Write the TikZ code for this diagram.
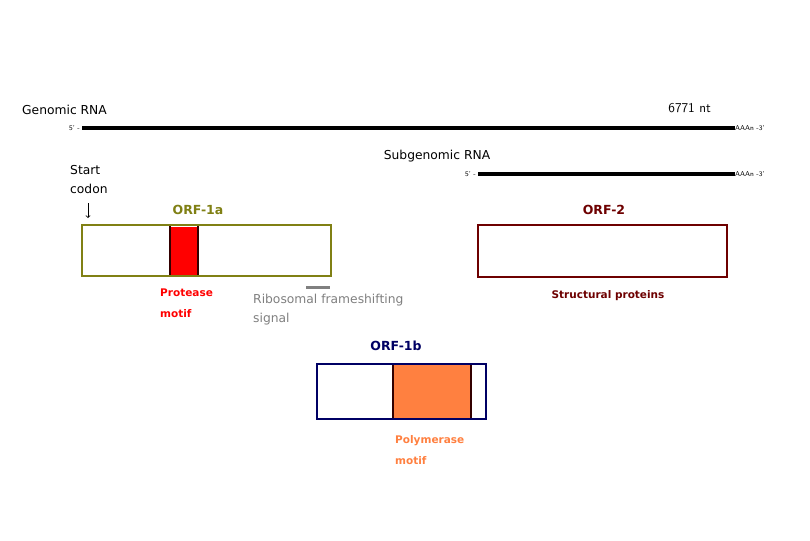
\documentclass[tikz,border=0pt]{standalone}
\usepackage{fontspec}
\setmainfont{DejaVu Sans}
\definecolor{olivec}{RGB}{128,128,20}
\definecolor{maroonc}{RGB}{110,0,0}
\definecolor{navyc}{RGB}{0,0,100}
\definecolor{orangec}{RGB}{255,128,64}
\definecolor{grayc}{RGB}{128,128,128}
\begin{document}
\begin{tikzpicture}[x=1pt,y=-1pt,
  lbl/.style={inner sep=0pt,font=\fontsize{12.3}{14}\selectfont},
  blbl/.style={inner sep=0pt,font=\fontsize{10.5}{14}\selectfont\bfseries},
  orft/.style={inner sep=0pt,font=\fontsize{12.5}{14}\selectfont\bfseries},
  tiny/.style={inner sep=0pt,font=\fontsize{7}{8}\selectfont\sffamily},
  rna/.style={line width=4pt},
  orfbox/.style={line width=2.5pt,fill=white},
  motif/.style={draw=black!80!red,line width=1.5pt}]
\useasboundingbox[fill=white] (0,0) rectangle (810,540);
% genomic RNA
\node[lbl,anchor=west] (grna) at (22,110) {Genomic RNA};
\node[tiny,anchor=east] (g5) at (80,128) {5' -};
\node[tiny,anchor=west] (g3) at (735,128) {AAAn -3'};
\draw[rna] (g5.east) ++(2,0) coordinate (g5e) -- (g5e -| g3.west);
\node[inner sep=0pt,anchor=east,font=\fontsize{13.5}{15}\selectfont\sffamily] (len) at (711,108) {6771 nt};
% subgenomic RNA
\node[lbl] (sgrna) at (437,156) {Subgenomic RNA};
\node[tiny,anchor=east] (s5) at (476,174) {5' -};
\node[tiny,anchor=west] (s3) at (735,174) {AAAn -3'};
\draw[rna] (s5.east) ++(2,0) coordinate (s5e) -- (s5e -| s3.west);
% start codon
\node[lbl,anchor=west] (start1) at (70,170) {Start};
\node[lbl,anchor=west] (start2) at (70,189) {codon};
\coordinate (arrs) at (88,203);
\coordinate (arre) at (88,218);
\draw[->,line width=0.8pt] (arrs) -- (arre);
% ORF-1a
\node[orft,text=olivec] (o1a) at (198,210) {ORF-1a};
\draw[orfbox,draw=olivec] (82,225) rectangle (331,276);
\node[draw=none,fill=red,minimum width=28pt,minimum height=48pt,inner sep=0pt] (prot) at (184,250.5) {};
\draw[motif] (prot.north west) -- (prot.south west) (prot.north east) -- (prot.south east);
\draw[olivec,line width=2.5pt] (82,225) rectangle (331,276);
\node[blbl,text=red,anchor=west] (protl1) at (160,293) {Protease};
\node[blbl,text=red,anchor=west] (protl2) at (160,314) {motif};
% frameshifting
\coordinate (fs1) at (306,287);
\coordinate (fs2) at (330,287);
\draw[grayc,line width=3pt] (fs1) -- (fs2);
\node[lbl,text=grayc,anchor=west] (fsl1) at (253,300) {Ribosomal frameshifting};
\node[lbl,text=grayc,anchor=west] (fsl2) at (253,319) {signal};
% ORF-2
\node[orft,text=maroonc] (o2) at (604,210) {ORF-2};
\draw[orfbox,draw=maroonc] (478,225) rectangle (727,277);
\node[blbl,text=maroonc] (o2l) at (608,296) {Structural proteins};
% ORF-1b
\node[orft,text=navyc] (o1b) at (396,346) {ORF-1b};
\draw[orfbox,draw=navyc] (317,364) rectangle (486,419);
\node[draw=none,fill=orangec,minimum width=78pt,minimum height=53pt,inner sep=0pt] (pol) at (432,391.5) {};
\draw[motif] (pol.north west) -- (pol.south west) (pol.north east) -- (pol.south east);
\draw[navyc,line width=2.5pt] (317,364) rectangle (486,419);
\node[blbl,text=orangec,anchor=west] (poll1) at (395,441) {Polymerase};
\node[blbl,text=orangec,anchor=west] (poll2) at (395,461) {motif};
\end{tikzpicture}
\end{document}
